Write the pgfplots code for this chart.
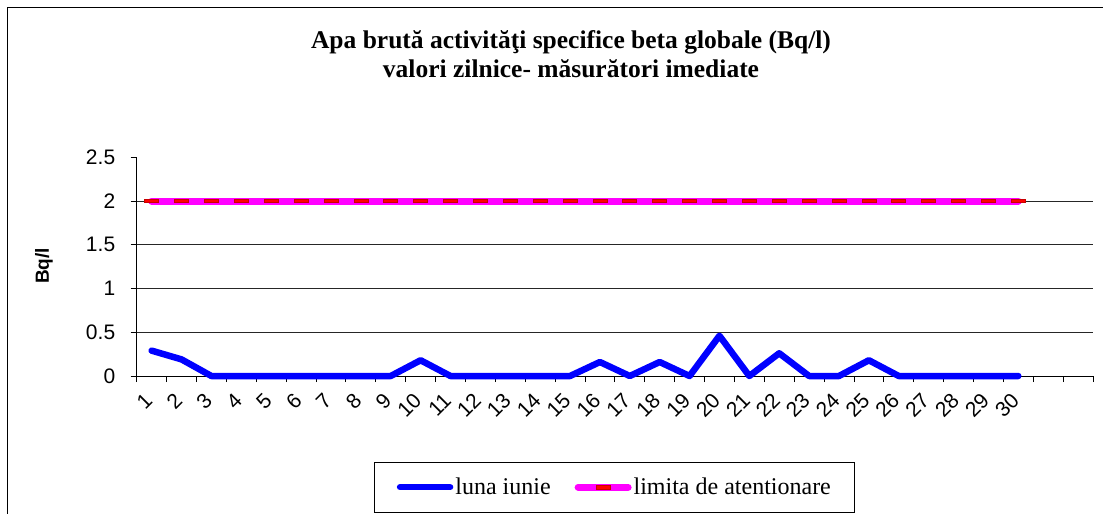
\documentclass[border=0pt]{standalone}
\usepackage{fontspec}
\setmainfont{Liberation Serif}
\newfontfamily\arial{Liberation Sans}
\usepackage{pgfplots}
\pgfplotsset{compat=1.18}
\definecolor{mag}{RGB}{255,0,255}
\definecolor{bl}{RGB}{0,0,255}
\definecolor{rd}{RGB}{255,0,0}
\definecolor{rdd}{RGB}{200,0,0}
\pgfplotstableread{
x y
1 0.29
2 0.19
3 0
4 0
5 0
6 0
7 0
8 0
9 0
10 0.18
11 0
12 0
13 0
14 0
15 0
16 0.16
17 0
18 0.16
19 0
20 0.46
21 0
22 0.26
23 0
24 0
25 0.18
26 0
27 0
28 0
29 0
30 0
}\iunie
\pgfplotstableread{
x y
1 2
2 2
3 2
4 2
5 2
6 2
7 2
8 2
9 2
10 2
11 2
12 2
13 2
14 2
15 2
16 2
17 2
18 2
19 2
20 2
21 2
22 2
23 2
24 2
25 2
26 2
27 2
28 2
29 2
30 2
}\limita
\begin{document}
\begin{tikzpicture}
\useasboundingbox (0bp,0bp) rectangle (1103bp,-514bp);
\clip (0bp,0bp) rectangle (1103bp,-514bp);
\draw[line width=1bp] (7.5bp,-600bp) -- (7.5bp,-7.5bp) -- (1200bp,-7.5bp);
\node[anchor=base, inner sep=0pt, font=\fontsize{25.5bp}{29bp}\selectfont\bfseries] at (571bp,-48.3bp) {Apa brută activităţi specifice beta globale (Bq/l)};
\node[anchor=base, inner sep=0pt, font=\fontsize{25.5bp}{29bp}\selectfont\bfseries] at (571bp,-77.3bp) {valori zilnice- măsurători imediate};
\node[rotate=90, inner sep=0pt, font=\arial\bfseries\fontsize{19bp}{22bp}\selectfont] at (44bp,-266bp) {Bq/l};
\begin{axis}[
  at={(136.7bp,-376bp)}, anchor=south west,
  scale only axis, width=956.3bp, height=218.7bp,
  xmin=0.5, xmax=32.5, ymin=0, ymax=2.5,
  clip=false,
  axis x line=bottom, axis y line=left,
  axis line style={-, black, line width=0.8bp},
  tick align=outside,
  xtick={1,...,30},
  major x tick style={draw=none},
  minor xtick={0.5,1.5,...,32.5},
  minor x tick style={black, line width=0.8bp},
  minor tick length=6bp,
  ytick={0,0.5,...,2.5},
  major tick length=6bp,
  y tick style={black, line width=0.8bp},
  extra y ticks={0.5,1,1.5,2},
  extra y tick labels={},
  extra y tick style={grid=major, major tick length=0pt},
  major grid style={black!85, line width=0.8bp},
  /pgf/number format/assume math mode=true,
  tick label style={font=\arial\fontsize{21bp}{24bp}\selectfont},
  yticklabel style={anchor=east, xshift=-12bp},
  xticklabel style={anchor=east, inner sep=0pt, xshift=-3bp, yshift=-15bp, rotate=45},
  legend columns=2,
  legend style={at={(0.5,-0.392)}, anchor=north, draw=black, line width=0.8bp,
    font=\fontsize{24bp}{28bp}\selectfont, inner xsep=22bp, inner ysep=14bp,
    /tikz/every even column/.append style={column sep=22bp}},
  legend cell align=left,
]
\addplot[bl, line width=6.5bp, line cap=round, line join=round,
  legend image code/.code={\draw[bl, line width=6.5bp, line cap=round] (0bp,0bp) -- (50bp,0bp);}]
  table[x=x, y=y] {\iunie};
\addlegendentry{luna iunie}
\addplot[mag, line width=7bp, line cap=round, mark=square*, mark size=7bp,
  mark options={solid, draw=rdd, fill=rd, line width=0.6bp, yscale=0.25},
  legend image code/.code={\draw[mag, line width=7bp, line cap=round] (0bp,0bp) -- (50bp,0bp);
    \draw[draw=rdd, fill=rd, line width=0.6bp] (18bp,-1.8bp) rectangle (32bp,1.8bp);}]
  table[x=x, y=y] {\limita};
\addlegendentry{limita de atentionare}
\end{axis}
\end{tikzpicture}
\end{document}
